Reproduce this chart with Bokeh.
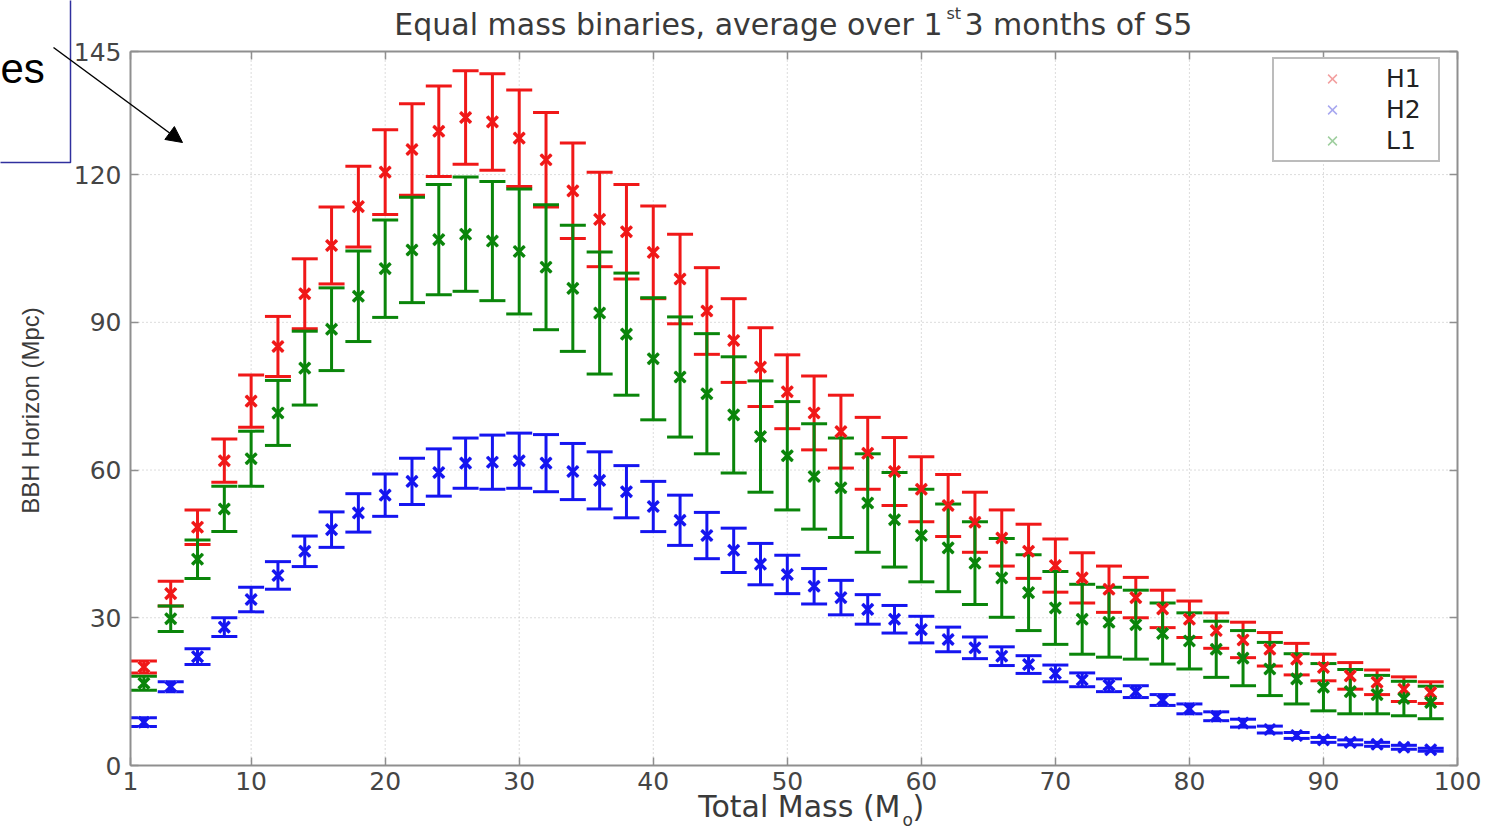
import numpy as np
from bokeh.plotting import figure
from bokeh.models import (ColumnDataSource, Whisker, TeeHead, FixedTicker, Label, LinearAxis,
                          Legend, LegendItem, Arrow, NormalHead, BoxAnnotation, Range1d)
from bokeh.embed import file_html
from bokeh.resources import INLINE

# ---------------- data ----------------
mass = [2, 4, 6, 8, 10, 12, 14, 16, 18, 20, 22, 24, 26, 28, 30, 32, 34, 36, 38, 40,
        42, 44, 46, 48, 50, 52, 54, 56, 58, 60, 62, 64, 66, 68, 70, 72, 74, 76, 78, 80,
        82, 84, 86, 88, 90, 92, 94, 96, 98]

h1 = [20.0, 34.9, 48.4, 61.9, 74.0, 85.1, 95.8, 105.6, 113.5, 120.5, 125.1, 128.8,
      131.6, 130.7, 127.4, 123.0, 116.7, 110.9, 108.4, 104.2, 98.8, 92.3, 86.3, 80.9,
      75.9, 71.6, 67.8, 63.4, 59.7, 56.1, 52.8, 49.4, 46.2, 43.5, 40.6, 38.1,
      35.8, 34.1, 31.8, 29.7, 27.4, 25.5, 23.6, 21.6, 19.9, 18.2, 16.9, 15.5, 14.8]
h1_err = [1.2, 2.5, 3.5, 4.4, 5.3, 6.1, 7.1, 7.8, 8.2, 8.6, 9.3, 9.2,
          9.5, 9.8, 9.8, 9.6, 9.7, 9.6, 9.6, 9.4, 9.1, 8.8, 8.5, 8.0,
          7.5, 7.5, 7.4, 7.3, 6.9, 6.6, 6.3, 6.1, 5.7, 5.5, 5.4, 5.1,
          4.7, 4.1, 3.8, 3.7, 3.6, 3.6, 3.4, 3.2, 2.7, 2.7, 2.5, 2.5, 2.2]

h2 = [8.8, 16.0, 22.1, 28.1, 33.7, 38.6, 43.5, 47.9, 51.3, 54.9, 57.7, 59.5,
      61.4, 61.6, 61.9, 61.4, 59.7, 57.9, 55.6, 52.6, 49.8, 46.7, 43.7, 40.9,
      38.8, 36.4, 34.1, 31.7, 29.7, 27.6, 25.6, 23.9, 22.2, 20.5, 18.7, 17.4,
      16.3, 15.0, 13.3, 11.5, 10.0, 8.6, 7.3, 6.1, 5.2, 4.7, 4.3, 3.7, 3.2]
h2_err = [0.9, 1.0, 1.6, 1.9, 2.5, 2.8, 3.1, 3.6, 3.9, 4.3, 4.7, 4.8,
          5.1, 5.5, 5.6, 5.8, 5.7, 5.8, 5.3, 5.1, 5.1, 4.7, 4.5, 4.2,
          3.9, 3.6, 3.5, 3.0, 2.8, 2.7, 2.5, 2.2, 1.9, 1.8, 1.7, 1.4,
          1.3, 1.2, 1.1, 1.0, 0.9, 0.8, 0.7, 0.6, 0.5, 0.5, 0.4, 0.4, 0.3]

l1 = [16.7, 29.8, 41.9, 52.1, 62.3, 71.6, 80.7, 88.6, 95.3, 100.9, 104.7, 106.8,
      107.9, 106.5, 104.4, 101.2, 96.9, 91.9, 87.6, 82.6, 78.9, 75.5, 71.2, 66.8,
      62.9, 58.7, 56.4, 53.3, 49.9, 46.7, 44.2, 41.1, 38.1, 35.1, 32.0, 29.7,
      29.1, 28.6, 26.8, 25.3, 23.6, 21.8, 19.6, 17.6, 15.9, 15.0, 14.4, 13.6, 12.8]
l1_err = [1.4, 2.6, 3.9, 4.6, 5.6, 6.6, 7.5, 8.4, 9.2, 9.9, 10.7, 11.2,
          11.6, 12.1, 12.7, 12.7, 12.8, 12.4, 12.4, 12.4, 12.2, 12.2, 11.8, 11.3,
          11.0, 10.7, 10.1, 10.0, 9.6, 9.4, 8.9, 8.4, 8.0, 7.7, 7.4, 7.1,
          7.1, 7.0, 6.2, 5.7, 5.7, 5.6, 5.4, 5.1, 4.8, 4.5, 3.9, 3.5, 3.3]

series_names = ["H1", "H2", "L1"]
x_ticks = [1, 10, 20, 30, 40, 50, 60, 70, 80, 90, 100]
y_ticks = [0, 30, 60, 90, 120, 145]
x_lim = (1, 100)
y_lim = (0, 145)

title_main = "Equal mass binaries, average over 1"
title_sup = "st"
title_rest = " 3 months of S5"
x_label = "Total Mass (M"
x_label_sub = "o"
y_label = "BBH Horizon (Mpc)"
overlay_text = "es"

# ---------------- layout: frame covers the whole canvas ----------------
W, H = 1505, 828
FL, FR, FT, FB = 130, 1457, 51, 765          # pixel box of the axes
sx = (FR - FL) / (x_lim[1] - x_lim[0])
sy = (FB - FT) / (y_lim[1] - y_lim[0])
xr = Range1d(x_lim[0] - FL / sx, x_lim[1] + (W - FR) / sx)
yr = Range1d(y_lim[0] - (H - FB) / sy, y_lim[1] + FT / sy)

FONT = "DejaVu Sans"
FONT2 = "Liberation Sans"
TXT = "#3a3a3a"
AX = "#8f8f8f"
colors = ["#f01818", "#1515f0", "#0a850a"]
pale = ["#f3a0a0", "#a8a8f0", "#9fcf9f"]

p = figure(width=W, height=H, output_backend="svg", toolbar_location=None,
           x_range=xr, y_range=yr, min_border=0)
p.title.visible = False
p.background_fill_color = "white"
p.border_fill_color = "white"
p.outline_line_color = None
p.grid.visible = False


def style_axis(ax):
    ax.axis_line_color = AX
    ax.axis_line_width = 2
    ax.major_tick_line_color = AX
    ax.major_tick_line_width = 1.5
    ax.major_tick_in = 8
    ax.major_tick_out = 0
    ax.minor_tick_line_color = None
    ax.major_label_text_font = FONT
    ax.major_label_text_font_size = "25px"
    ax.major_label_text_color = "#454545"


p.xaxis.fixed_location = y_lim[0]
p.yaxis.fixed_location = x_lim[0]
p.xaxis.bounds = x_lim
p.yaxis.bounds = y_lim
p.xaxis.ticker = FixedTicker(ticks=x_ticks)
p.yaxis.ticker = FixedTicker(ticks=y_ticks)
style_axis(p.xaxis[0])
style_axis(p.yaxis[0])
p.xaxis.major_label_standoff = 6
p.yaxis.major_label_standoff = 9

top_ax = LinearAxis(fixed_location=y_lim[1], bounds=x_lim, ticker=FixedTicker(ticks=x_ticks),
                    major_label_overrides={t: "" for t in x_ticks})
right_ax = LinearAxis(fixed_location=x_lim[1], bounds=y_lim, ticker=FixedTicker(ticks=y_ticks),
                      major_label_overrides={t: "" for t in y_ticks})
style_axis(top_ax)
style_axis(right_ax)
p.add_layout(top_ax, "above")
p.add_layout(right_ax, "right")

# dotted grid inside the axes box
p.segment(x0=x_ticks, y0=[y_lim[0]] * len(x_ticks), x1=x_ticks, y1=[y_lim[1]] * len(x_ticks),
          line_color="#b8b8b8", line_dash="1 3", line_width=1, level="underlay")
p.segment(x0=[x_lim[0]] * len(y_ticks), y0=y_ticks, x1=[x_lim[1]] * len(y_ticks), y1=y_ticks,
          line_color="#b8b8b8", line_dash="1 3", line_width=1, level="underlay")

vals = [h1, h2, l1]
errs = [h1_err, h2_err, l1_err]
for v, e, c in zip(vals, errs, colors):
    v = np.array(v)
    e = np.array(e)
    src = ColumnDataSource(dict(x=mass, y=v, upper=v + e, lower=v - e))
    w = Whisker(source=src, base="x", upper="upper", lower="lower",
                line_color=c, line_width=3,
                upper_head=TeeHead(size=26, line_color=c, line_width=3),
                lower_head=TeeHead(size=26, line_color=c, line_width=3))
    p.add_layout(w)

# pale markers (used by the legend), then the bold markers on top
legend_r = []
for v, c in zip(vals, pale):
    legend_r.append(p.scatter(mass, v, marker="x", size=16, line_color=c, line_width=1.5))
for v, c in zip(vals, colors):
    p.scatter(mass, v, marker="x", size=15, line_color=c, line_width=3.5)

items = [LegendItem(label=n, renderers=[r]) for n, r in zip(series_names, legend_r)]
legend = Legend(items=items, location=(1272, H - 162), orientation="vertical",
                padding=4, spacing=0, margin=0,
                glyph_width=108, glyph_height=31, label_height=31, label_width=48,
                label_standoff=0,
                label_text_font=FONT, label_text_font_size="25px", label_text_color="#222222",
                border_line_color="#7a7a7a", border_line_width=2,
                background_fill_color="white", background_fill_alpha=1)
p.add_layout(legend)


def canvas_label(x, y, text, size, align="left", font=FONT, color=TXT, angle=0.0):
    p.add_layout(Label(x=x, y=y, x_units="canvas", y_units="canvas", text=text,
                       text_font=font, text_font_size=size, text_color=color, angle=angle,
                       text_align=align, text_baseline="middle"))


# title
canvas_label(942, 24, title_main, "30px", align="right")
canvas_label(946, 13, title_sup, "16px")
canvas_label(964, 24, title_rest, "30px")

# axis labels
canvas_label(900, 806, x_label, "30px", align="right")
canvas_label(902, 819, x_label_sub, "17px")
canvas_label(912, 806, ")", "30px")
canvas_label(30, 410, y_label, "24px", align="center", font=FONT2, angle=np.pi / 2)

# slide overlay: clipped text box and arrow
p.add_layout(BoxAnnotation(left=-5, right=70, top=-5, bottom=162,
                           left_units="canvas", right_units="canvas",
                           top_units="canvas", bottom_units="canvas",
                           fill_alpha=0, line_color="#30309e", line_alpha=1, line_width=1.5))
canvas_label(0, 68, overlay_text, "42px", font=FONT2, color="black")
p.add_layout(Arrow(x_start=53, y_start=47, x_end=182, y_end=142,
                   start_units="canvas", end_units="canvas",
                   line_color="black", line_width=1.5,
                   end=NormalHead(size=16, fill_color="black", line_color="black")))

open("out.html", "w").write(file_html(p, INLINE))
